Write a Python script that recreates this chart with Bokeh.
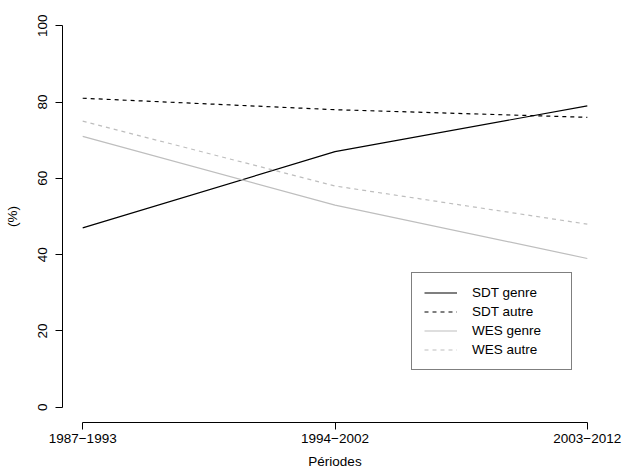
from bokeh.plotting import figure
from bokeh.models import Range1d, FixedTicker, Legend, LegendItem
from bokeh.embed import file_html
from bokeh.resources import INLINE

periods = ["1987\u22121993", "1994\u22122002", "2003\u22122012"]
sdt_genre = [47, 67, 79]
sdt_autre = [81, 78, 76]
wes_genre = [71, 53, 39]
wes_autre = [75, 58, 48]
y_ticks = [0, 20, 40, 60, 80, 100]

FONT = "Liberation Sans"
FS = "13.5px"
xs = list(range(len(periods)))

p = figure(frame_width=545, frame_height=412, output_backend="svg", toolbar_location=None,
           x_range=Range1d(-0.08, 2.08), y_range=Range1d(-4, 104),
           min_border_left=62, min_border_right=15, min_border_top=10, min_border_bottom=48)
p.outline_line_color = None
p.xgrid.visible = False
p.ygrid.visible = False

r1 = p.line(xs, sdt_genre, line_color="black", line_width=1.2)
r2 = p.line(xs, sdt_autre, line_color="black", line_width=1.2, line_dash="4 4")
r3 = p.line(xs, wes_genre, line_color="#BEBEBE", line_width=1.2)
r4 = p.line(xs, wes_autre, line_color="#BEBEBE", line_width=1.2, line_dash="4 4")

for ax in (p.xaxis[0], p.yaxis[0]):
    ax.axis_line_color = "black"
    ax.major_tick_line_color = "black"
    ax.minor_tick_line_color = None
    ax.major_tick_out = 7
    ax.major_tick_in = 0
    ax.major_label_text_font = FONT
    ax.major_label_text_font_size = FS
    ax.major_label_text_color = "black"
    ax.axis_label_text_font = FONT
    ax.axis_label_text_font_size = FS
    ax.axis_label_text_font_style = "normal"
    ax.axis_label_text_color = "black"

p.xaxis.ticker = FixedTicker(ticks=xs)
p.xaxis.major_label_overrides = {i: lab for i, lab in enumerate(periods)}
p.xaxis.bounds = (xs[0], xs[-1])
p.xaxis.axis_label = "Périodes"
p.xaxis.major_label_standoff = 4
p.xaxis.axis_label_standoff = 8

p.yaxis.ticker = FixedTicker(ticks=y_ticks)
p.yaxis.bounds = (y_ticks[0], y_ticks[-1])
p.yaxis.axis_label = "(%)"
p.yaxis.major_label_orientation = "vertical"
p.yaxis.major_label_standoff = 8
p.yaxis.axis_label_standoff = 16

legend = Legend(items=[
    LegendItem(label="SDT genre", renderers=[r1]),
    LegendItem(label="SDT autre", renderers=[r2]),
    LegendItem(label="WES genre", renderers=[r3]),
    LegendItem(label="WES autre", renderers=[r4]),
], location=(349, 52))
legend.border_line_color = "black"
legend.border_line_width = 1
legend.background_fill_color = "white"
legend.background_fill_alpha = 1
legend.label_text_font = FONT
legend.label_text_font_size = FS
legend.label_text_color = "black"
legend.padding = 12
legend.spacing = 4
legend.label_height = 15
legend.glyph_height = 15
legend.glyph_width = 33
legend.label_standoff = 15
legend.label_width = 87
legend.margin = 0
p.add_layout(legend, "center")

open("out.html", "w").write(file_html(p, INLINE))
